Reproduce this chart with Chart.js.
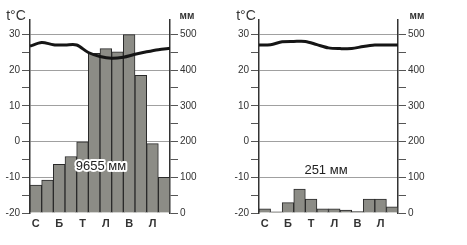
<!DOCTYPE html>
<html>
<head>
<meta charset="utf-8">
<script src="https://cdn.jsdelivr.net/npm/chart.js@4/dist/chart.umd.min.js"></script>
<style>
  html, body { margin: 0; padding: 0; background: #fff; }
  #wrap { position: relative; width: 467px; height: 245px; overflow: hidden; }
  canvas { position: absolute; top: 0; }
  #c1 { left: 0; }
  #c2 { left: 224px; }
</style>
</head>
<body>
<div id="wrap">
  <canvas id="c1" width="234" height="245"></canvas>
  <canvas id="c2" width="243" height="245"></canvas>
</div>
<script>
const monthLabels = ["С", "", "Б", "", "Т", "", "Л", "", "В", "", "Л", ""];

// left diagram
const precipA = [78, 92, 136, 158, 199, 447, 460, 451, 499, 385, 194, 100];
const tempA = [26.7, 27.7, 27.1, 27.0, 27.0, 24.9, 23.8, 23.3, 23.6, 24.4, 25.1, 25.7, 26.1];
const totalA = "9655 мм";

// right diagram
const precipB = [12, 3, 29, 67, 39, 12, 12, 8, 4, 39, 39, 17];
const tempB = [27.0, 27.1, 27.9, 28.0, 28.0, 27.1, 26.2, 26.0, 26.0, 26.6, 27.0, 27.0, 27.0];
const totalB = "251 мм";

const tempTicks = [-20, -10, 0, 10, 20, 30];
const mmTicks = [0, 100, 200, 300, 400, 500];

const FONT = "'Liberation Sans', Arial, sans-serif";
const INK = "#333";

function textPlugin(cfg) {
  return {
    id: "texts",
    afterDatasetsDraw(chart) {
      const c = chart.ctx;
      c.save();
      c.textAlign = "center";
      c.textBaseline = "middle";
      c.fillStyle = INK;
      c.font = "14px " + FONT;
      c.fillText("t°C", cfg.tX, 16);
      c.font = "bold 10px " + FONT;
      c.fillText("мм", cfg.mmX, 16);
      c.font = "13px " + FONT;
      if (cfg.halo) {
        c.strokeStyle = "#fff";
        c.lineWidth = 4;
        c.lineJoin = "round";
        c.strokeText(cfg.total, cfg.totalX, cfg.totalY);
      }
      c.fillStyle = "#222";
      c.fillText(cfg.total, cfg.totalX, cfg.totalY);
      c.restore();
    }
  };
}

function makeChart(id, precip, temp, cfg) {
  new Chart(document.getElementById(id), {
    type: "bar",
    data: {
      labels: monthLabels,
      datasets: [{
        type: "line",
        data: temp.map((v, i) => ({ x: i, y: v })),
        xAxisID: "xt",
        yAxisID: "t",
        borderColor: "#151515",
        borderWidth: 3,
        tension: 0.3,
        pointRadius: 0,
        order: 0
      }, {
        data: precip,
        xAxisID: "x",
        yAxisID: "mm",
        backgroundColor: "#8c8c86",
        borderColor: "#2a2a2a",
        borderWidth: 1,
        barPercentage: 1,
        categoryPercentage: 1,
        grouped: false,
        order: 1
      }]
    },
    options: {
      responsive: false,
      animation: false,
      layout: { padding: { top: 20, left: 0, right: 0, bottom: 0 } },
      plugins: { legend: { display: false }, tooltip: { enabled: false } },
      scales: {
        x: {
          grid: { display: false, drawTicks: false },
          border: { display: false },
          ticks: { autoSkip: false, maxRotation: 0, padding: 4, color: INK, font: { family: FONT, size: 11, weight: "bold" } },
          afterFit: s => { s.height = 32; }
        },
        xt: {
          type: "linear",
          display: false,
          min: 0,
          max: 12,
          offset: false
        },
        t: {
          position: "left",
          min: -20,
          max: 34,
          ticks: {
            stepSize: 5,
            padding: 2,
            color: INK,
            font: { family: FONT, size: 10 },
            callback: v => tempTicks.includes(v) ? v : ""
          },
          afterBuildTicks: s => { s.ticks = s.ticks.filter(t => t.value <= 30 && t.value % 5 === 0); },
          grid: {
            color: c => (c.tick && c.tick.value % 10 === 0 && c.tick.value > -20) ? "#a0a0a0" : "rgba(0,0,0,0)",
            borderDash: [6, 4],
            tickColor: "#555",
            tickLength: 8,
            tickBorderDash: []
          },
          border: { color: "#333", width: 1.5 },
          afterFit: s => { s.width = cfg.leftW; }
        },
        mm: {
          position: "right",
          min: 0,
          max: 540,
          ticks: {
            stepSize: 50,
            padding: 2,
            color: INK,
            font: { family: FONT, size: 10 },
            callback: v => mmTicks.includes(v) ? v : ""
          },
          afterBuildTicks: s => { s.ticks = s.ticks.filter(t => t.value <= 500 && t.value % 50 === 0); },
          grid: { drawOnChartArea: false, tickColor: "#555", tickLength: 8 },
          border: { color: "#333", width: 1.5 },
          afterFit: s => { s.width = cfg.rightW; }
        }
      }
    },
    plugins: [textPlugin(cfg)]
  });
}

makeChart("c1", precipA, tempA, { leftW: 30, rightW: 64, tX: 16, mmX: 187, total: totalA, totalX: 101, totalY: 166, halo: true });
makeChart("c2", precipB, tempB, { leftW: 35, rightW: 69, tX: 22, mmX: 193, total: totalB, totalX: 102, totalY: 170, halo: false });
</script>
</body>
</html>
